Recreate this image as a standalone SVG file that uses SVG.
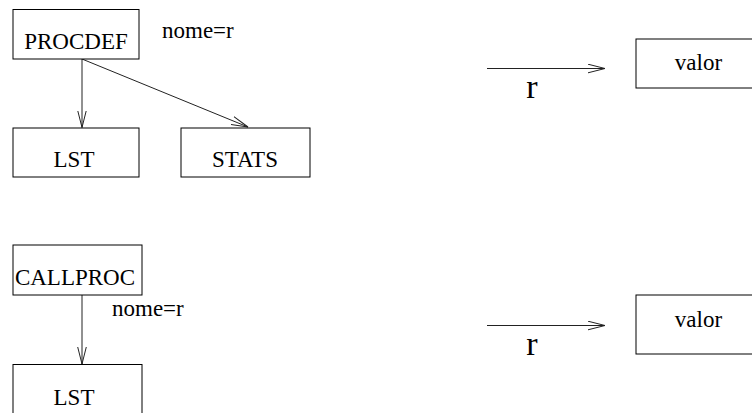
<svg xmlns="http://www.w3.org/2000/svg" width="752" height="413" viewBox="0 0 752 413">
<defs>
<style>
.box{fill:#fff;stroke:#000;stroke-width:1}
.t{font-family:"Liberation Serif","Times New Roman",serif;font-size:23px;fill:#000}
.c{text-anchor:middle}
.big{font-size:34px}
.edge{stroke:#222;stroke-width:1;fill:none}
</style>
<marker id="arr" markerUnits="userSpaceOnUse" viewBox="0 0 18 10" markerWidth="18" markerHeight="10" refX="17" refY="5" orient="auto">
<path d="M0,0.7 L17,5 L0,9.3" fill="none" stroke="#222" stroke-width="1"/>
</marker>
</defs>
<rect width="752" height="413" fill="#fff"/>
<g id="connectors">
<line class="edge" x1="82" y1="59" x2="82" y2="127.5" marker-end="url(#arr)"/>
<line class="edge" x1="82" y1="59" x2="248" y2="127" marker-end="url(#arr)"/>
<line class="edge" x1="82" y1="295" x2="82" y2="364" marker-end="url(#arr)"/>
<line class="edge" x1="487" y1="68.5" x2="605" y2="68.5" marker-end="url(#arr)"/>
<line class="edge" x1="487" y1="325.5" x2="605" y2="325.5" marker-end="url(#arr)"/>
</g>
<g id="procdef">
<rect class="box" x="13" y="9.5" width="126" height="49.5"/>
<text class="t c" x="76" y="49">PROCDEF</text>
</g>
<g id="label-nome1"><text class="t" x="162" y="38">nome=r</text></g>
<g id="lst1">
<rect class="box" x="13" y="128" width="126" height="49"/>
<text class="t c" x="74" y="166.5">LST</text>
</g>
<g id="stats">
<rect class="box" x="181" y="128" width="129" height="49"/>
<text class="t c" x="245" y="166.5">STATS</text>
</g>
<g id="callproc">
<rect class="box" x="13" y="245" width="129" height="50"/>
<text class="t c" x="75" y="285">CALLPROC</text>
</g>
<g id="label-nome2"><text class="t" x="112" y="315.5">nome=r</text></g>
<g id="lst2">
<rect class="box" x="13" y="364.5" width="129" height="60"/>
<text class="t c" x="74" y="405">LST</text>
</g>
<g id="label-r1"><text class="t c big" x="532" y="98">r</text></g>
<g id="valor1">
<rect class="box" x="636" y="39" width="130" height="49"/>
<text class="t c" x="698.5" y="69.5">valor</text>
</g>
<g id="label-r2"><text class="t c big" x="532" y="355">r</text></g>
<g id="valor2">
<rect class="box" x="636" y="295" width="130" height="59"/>
<text class="t c" x="698.5" y="326.5">valor</text>
</g>
</svg>
